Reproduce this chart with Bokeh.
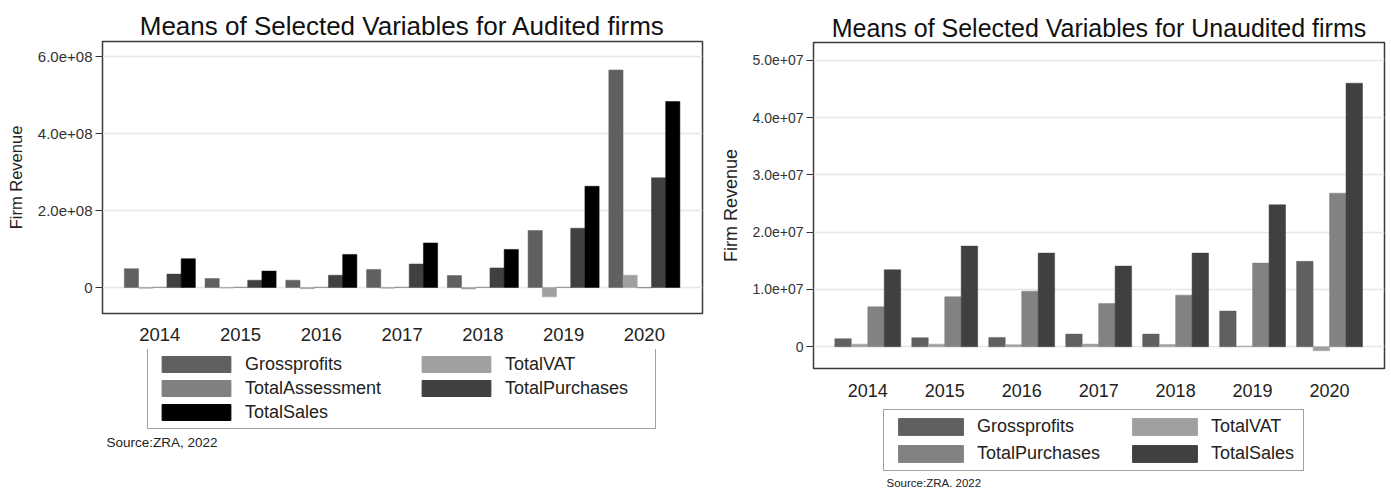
import math
from bokeh.plotting import figure
from bokeh.models import (ColumnDataSource, Range1d, FixedTicker, Label, Legend, LegendItem)
from bokeh.transform import dodge
from bokeh.layouts import row, column
from bokeh.embed import file_html
from bokeh.resources import INLINE

# ---------------- data ----------------
years = ["2014", "2015", "2016", "2017", "2018", "2019", "2020"]

# Audited firms
aud_series = ["Grossprofits", "TotalVAT", "TotalAssessment", "TotalPurchases", "TotalSales"]
aud_grossprofits = [4.87e7, 2.35e7, 1.9e7, 4.7e7, 3.1e7, 1.48e8, 5.65e8]
aud_totalvat = [-2.0e6, -1.5e6, -3.0e6, -2.0e6, -4.0e6, -2.43e7, 3.2e7]
aud_totalassessment = [1.0e6, 1.0e6, 1.0e6, 1.0e6, 1.0e6, 1.0e6, -1.0e6]
aud_totalpurchases = [3.48e7, 1.9e7, 3.2e7, 6.1e7, 5.1e7, 1.54e8, 2.85e8]
aud_totalsales = [7.48e7, 4.26e7, 8.6e7, 1.157e8, 9.9e7, 2.63e8, 4.83e8]
aud_ticks = [0, 200000000, 400000000, 600000000]
aud_tick_labels = ["0", "2.0e+08", "4.0e+08", "6.0e+08"]

# Unaudited firms
una_series = ["Grossprofits", "TotalVAT", "TotalPurchases", "TotalSales"]
una_grossprofits = [1.4e6, 1.57e6, 1.63e6, 2.2e6, 2.2e6, 6.22e6, 1.49e7]
una_totalvat = [4.5e5, 4.5e5, 3.5e5, 4.6e5, 4.0e5, 1.0e5, -7.0e5]
una_totalpurchases = [6.98e6, 8.72e6, 9.7e6, 7.56e6, 9.0e6, 1.46e7, 2.68e7]
una_totalsales = [1.343e7, 1.756e7, 1.634e7, 1.407e7, 1.634e7, 2.477e7, 4.6e7]
una_ticks = [0, 10000000, 20000000, 30000000, 40000000, 50000000]
una_tick_labels = ["0", "1.0e+07", "2.0e+07", "3.0e+07", "4.0e+07", "5.0e+07"]

FONT = "Liberation Sans"
TXT = "#222222"


def make_chart(title, series, values, colors, ticks, tick_labels, cfg):
    xs = list(range(len(years)))
    data = {"x": xs}
    for name, vals in zip(series, values):
        data[name] = vals
    src = ColumnDataSource(data)

    p = figure(output_backend="svg", toolbar_location=None, title=title,
               frame_width=cfg["fw"], frame_height=cfg["fh"],
               min_border_left=cfg["bl"], min_border_right=cfg["br"],
               min_border_top=cfg["bt"], min_border_bottom=cfg["bb"],
               x_range=Range1d(*cfg["xr"]), y_range=Range1d(*cfg["yr"]),
               background_fill_color="white", border_fill_color="white")
    p.outline_line_color = "#3a3a3a"
    p.outline_line_width = 1.5

    p.title.align = "center"
    p.title.text_font = FONT
    p.title.text_font_size = cfg["tfs"]
    p.title.text_font_style = "normal"
    p.title.text_color = "#111111"
    p.title.standoff = cfg["tstand"]

    n = len(series)
    bw = cfg["bw"]
    for i, (name, col) in enumerate(zip(series, colors)):
        off = (i - (n - 1) / 2.0) * bw
        p.vbar(x=dodge("x", off), top=name, bottom=0, width=bw, source=src,
               fill_color=col, line_color=col, line_width=0.5)

    # axes
    p.xaxis.ticker = FixedTicker(ticks=xs)
    p.xaxis.major_label_overrides = {i: y for i, y in enumerate(years)}
    p.xaxis.axis_line_color = None
    p.xaxis.major_tick_line_color = None
    p.xaxis.minor_tick_line_color = None
    p.xaxis.major_tick_out = 0
    p.xaxis.major_label_standoff = cfg["xstand"]
    p.xaxis.major_label_text_font = FONT
    p.xaxis.major_label_text_font_size = cfg["xfs"]
    p.xaxis.major_label_text_color = TXT

    p.yaxis.ticker = FixedTicker(ticks=ticks)
    p.yaxis.major_label_overrides = {t: l for t, l in zip(ticks, tick_labels)}
    p.yaxis.axis_line_color = None
    p.yaxis.major_tick_line_color = "#333333"
    p.yaxis.major_tick_out = 7
    p.yaxis.major_tick_in = 0
    p.yaxis.minor_tick_line_color = None
    p.yaxis.major_label_standoff = 3
    p.yaxis.major_label_text_font = FONT
    p.yaxis.major_label_text_font_size = cfg["yfs"]
    p.yaxis.major_label_text_color = "#333333"
    p.yaxis.axis_label = "Firm Revenue"
    p.yaxis.axis_label_text_font = FONT
    p.yaxis.axis_label_text_font_size = cfg["ylfs"]
    p.yaxis.axis_label_text_font_style = "normal"
    p.yaxis.axis_label_text_color = TXT
    p.yaxis.axis_label_standoff = cfg["ylstand"]

    p.xgrid.grid_line_color = None
    p.ygrid.grid_line_color = "#e6e6e6"
    p.ygrid.grid_line_width = 1.5

    # ---- legend panel (separate canvas below the chart) ----
    width = cfg["bl"] + cfg["fw"] + cfg["br"]
    q = figure(output_backend="svg", toolbar_location=None,
               frame_width=width, frame_height=cfg["lh"],
               min_border=0, min_border_left=0, min_border_right=0,
               min_border_top=0, min_border_bottom=0,
               x_axis_type=None, y_axis_type=None,
               x_range=Range1d(0, 1), y_range=Range1d(0, 1),
               background_fill_color="white", border_fill_color="white")
    q.outline_line_color = None
    q.xgrid.grid_line_color = None
    q.ygrid.grid_line_color = None
    swatches = []
    for name, col in zip(series, colors):
        # legend key only: a zero-height bar placed outside the visible range
        swatches.append(q.vbar(x=[-5], top=[0], width=0.1, fill_color=col, line_color=col))

    col1 = [LegendItem(label=series[i], renderers=[swatches[i]]) for i in cfg["c1"]]
    col2 = [LegendItem(label=series[i], renderers=[swatches[i]]) for i in cfg["c2"]]
    common = dict(orientation="vertical", glyph_width=cfg["gw"], glyph_height=cfg["gh"],
                  label_standoff=cfg["ls"], label_height=20, spacing=cfg["sp"],
                  padding=cfg["pad"], margin=0, label_text_font=FONT,
                  label_text_font_size=cfg["lfs"], label_text_color=TXT,
                  click_policy="none")
    leg1 = Legend(items=col1, location=cfg["l1"], label_width=cfg["lw"],
                  border_line_color="#444444", border_line_width=1.5,
                  background_fill_color="white", background_fill_alpha=1.0, **common)
    leg2 = Legend(items=col2, location=cfg["l2"], label_width=20,
                  border_line_color=None, background_fill_alpha=0.0, **common)
    q.add_layout(leg1)
    q.add_layout(leg2)
    q.add_layout(Label(x=cfg["sx"], y=cfg["sy"], x_units="screen", y_units="screen",
                       text=cfg["src"], text_align="left", text_baseline="middle",
                       text_font=FONT, text_font_size=cfg["sfs"], text_color=TXT))
    return column(p, q)


left_cfg = dict(fw=600, fh=272, bl=102, br=10, bt=41, bb=36, lh=140,
                xr=(-0.71, 6.72), yr=(-6.75e7, 6.39e8), bw=0.176,
                xstand=14, xfs="18.5px", yfs="15px",
                tfs="26px", tstand=2,
                ylfs="16.5px", ylstand=10,
                sx=4, sy=47.3, src="Source:ZRA, 2022", sfs="13.5px",
                c1=[0, 2, 4], c2=[1, 3],
                gw=86, gh=20, ls=6, sp=3, pad=5, lfs="18px", lw=405,
                l1=(147, 60.5), l2=(413, 90.5))

right_cfg = dict(fw=571, fh=326, bl=101, br=5, bt=42, bb=38, lh=83,
                 xr=(-0.705, 6.714), yr=(-0.38e7, 5.31e7), bw=0.214,
                 xstand=15, xfs="18px", yfs="14px",
                 tfs="25px", tstand=2,
                 ylfs="18px", ylstand=9,
                 sx=73, sy=7, src="Source:ZRA. 2022", sfs="11.5px",
                 c1=[0, 2], c2=[1, 3],
                 gw=81, gh=21, ls=6, sp=6, pad=6, lfs="18px", lw=320,
                 l1=(171, 18.5), l2=(412, 25.5))

p1 = make_chart("Means of Selected Variables for Audited firms", aud_series,
                [aud_grossprofits, aud_totalvat, aud_totalassessment, aud_totalpurchases, aud_totalsales],
                ["#606060", "#a0a0a0", "#808080", "#404040", "#000000"],
                aud_ticks, aud_tick_labels, left_cfg)
p2 = make_chart("Means of Selected Variables for Unaudited firms", una_series,
                [una_grossprofits, una_totalvat, una_totalpurchases, una_totalsales],
                ["#606060", "#a0a0a0", "#828282", "#404040"],
                una_ticks, una_tick_labels, right_cfg)

layout = row(p1, p2)
open("out.html", "w").write(file_html(layout, INLINE))
